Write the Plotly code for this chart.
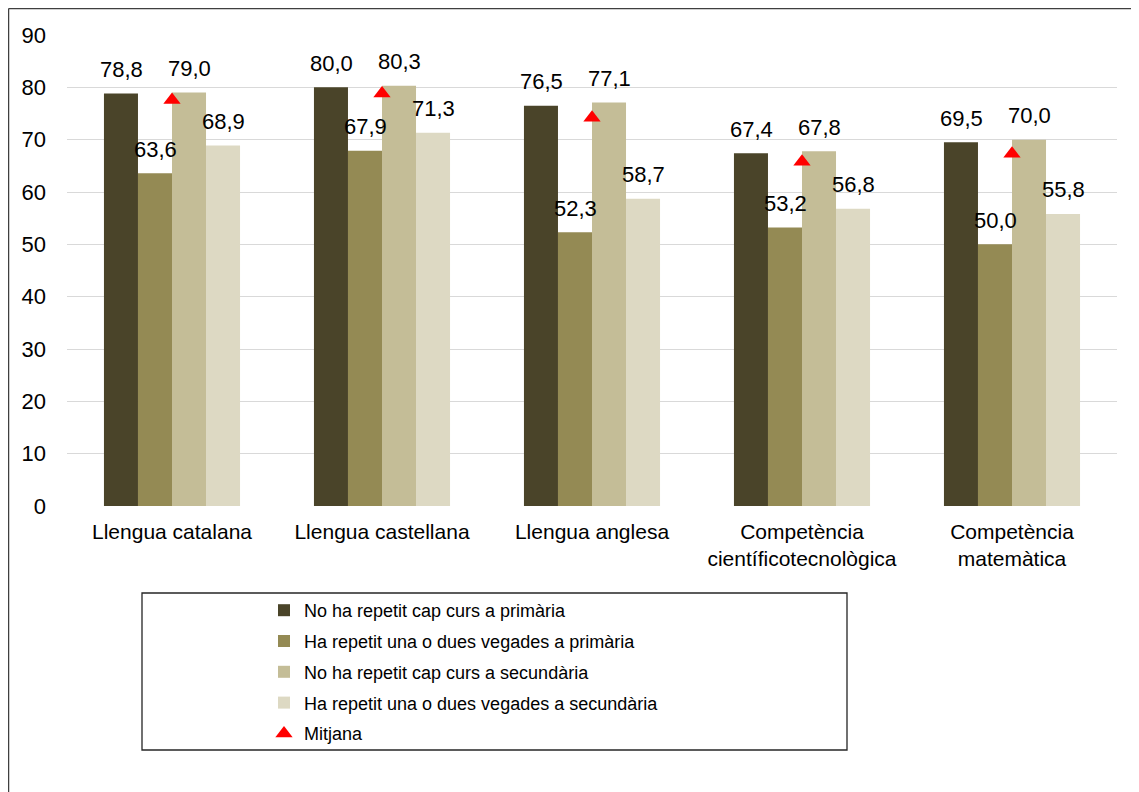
import plotly.graph_objects as go

categories = ["Llengua catalana", "Llengua castellana", "Llengua anglesa",
              "Competència<br>científicotecnològica", "Competència<br>matemàtica"]
series_names = ["No ha repetit cap curs a primària",
                "Ha repetit una o dues vegades a primària",
                "No ha repetit cap curs a secundària",
                "Ha repetit una o dues vegades a secundària"]
no_rep_prim = [78.8, 80.0, 76.5, 67.4, 69.5]
rep_prim = [63.6, 67.9, 52.3, 53.2, 50.0]
no_rep_sec = [79.0, 80.3, 77.1, 67.8, 70.0]
rep_sec = [68.9, 71.3, 58.7, 56.8, 55.8]
mitjana_name = "Mitjana"
mitjana = [77.6, 78.8, 74.2, 65.8, 67.3]
y_ticks = [0, 10, 20, 30, 40, 50, 60, 70, 80, 90]

series_values = [no_rep_prim, rep_prim, no_rep_sec, rep_sec]
colors = ["#4a4429", "#948a54", "#c4bd97", "#ddd9c3"]

FONT = "Liberation Sans, Arial, sans-serif"

# figure is drawn inside the page's 8px body margin
W, H = 1131, 784
L, R, T, B = 59, 1109, 27, 498


def px_x(p):
    return (p - L) / (R - L)


def px_y(p):
    return (B - p) / (B - T)


fig = go.Figure()
for i, (name, vals, col) in enumerate(zip(series_names, series_values, colors)):
    fig.add_trace(go.Bar(x=categories, y=vals, name=name, legendgroup=f"g{i}",
                         marker=dict(color=col, line=dict(width=0)),
                         hoverinfo="x+y"))

fig.add_trace(go.Scatter(x=categories, y=mitjana, name=mitjana_name, mode="markers",
                         legendgroup="g4",
                         marker=dict(symbol="triangle-up", color="#ff0000", size=15)))

# data labels
bar_w = 34
annotations = []
for i, vals in enumerate(series_values):
    for c, v in zip(categories, vals):
        annotations.append(dict(
            x=c, y=v, xref="x", yref="y",
            text=f"{v:.1f}".replace(".", ","),
            showarrow=False, xshift=(i - 1.5) * bar_w, yshift=24,
            yanchor="middle", xanchor="center",
            font=dict(family=FONT, size=22, color="#000000")))

shapes = [
    # outer chart border (left and top edges visible)
    dict(type="line", xref="paper", yref="paper",
         x0=px_x(0.6), x1=px_x(0.6), y0=px_y(0.6), y1=px_y(H),
         line=dict(color="#3f3f3f", width=1.3), layer="below"),
    dict(type="line", xref="paper", yref="paper",
         x0=px_x(0.6), x1=px_x(W), y0=px_y(0.6), y1=px_y(0.6),
         line=dict(color="#3f3f3f", width=1.3), layer="below"),
    # legend box
    dict(type="rect", xref="paper", yref="paper",
         x0=px_x(134), x1=px_x(839), y0=px_y(742), y1=px_y(585),
         line=dict(color="#262626", width=1.3), fillcolor="rgba(0,0,0,0)", layer="below"),
]

fig.update_layout(
    width=W, height=H,
    margin=dict(l=L, r=W - R, t=T, b=H - B, pad=0),
    paper_bgcolor="#ffffff", plot_bgcolor="#ffffff",
    barmode="group", bargap=0.352, bargroupgap=0,
    font=dict(family=FONT, size=21, color="#000000"),
    showlegend=True,
    legend=dict(x=px_x(256), y=px_y(584), xanchor="left", yanchor="top",
                font=dict(family=FONT, size=18, color="#000000"),
                bgcolor="rgba(0,0,0,0)", borderwidth=0, traceorder="grouped",
                tracegroupgap=4.4),
    annotations=annotations,
    shapes=shapes,
    xaxis=dict(showgrid=False, showline=False, ticks="", zeroline=False,
               tickfont=dict(family=FONT, size=21, color="#000000"),
               ticklabelstandoff=11),
    yaxis=dict(range=[0, 90], tickvals=y_ticks, showgrid=True, gridcolor="#d9d9d9",
               gridwidth=1.3, zeroline=False, showline=False, ticks="",
               tickfont=dict(family=FONT, size=22, color="#000000"),
               ticklabelstandoff=20),
)

fig.write_html("out.html")
